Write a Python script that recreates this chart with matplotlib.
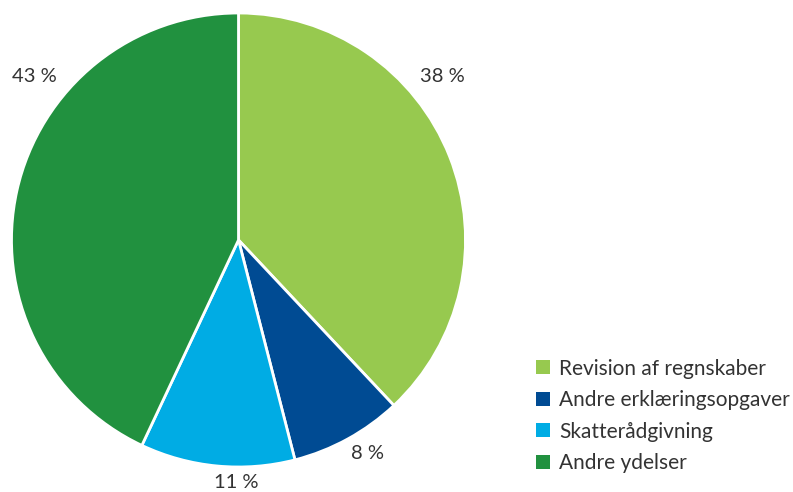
import numpy as np
import matplotlib.pyplot as plt
from matplotlib.patches import Patch

plt.rcParams['font.family'] = ['Lato', 'DejaVu Sans']

categories = ['Revision af regnskaber', 'Andre erklæringsopgaver',
              'Skatterådgivning', 'Andre ydelser']
shares = [38, 8, 11, 43]
colors = ['#97C94F', '#004B93', '#00ACE4', '#21913F']
# label positions (data units, pie radius = 1)
label_pos = [(0.90, 0.72), (0.57, -0.94), (-0.01, -1.07), (-0.90, 0.72)]

fig = plt.figure(figsize=(7.93, 4.92), dpi=100)
ax = fig.add_axes([11.5 / 793, 25 / 492, 454 / 793, 454 / 492])
wedges, _ = ax.pie(shares, colors=colors, startangle=90, counterclock=False,
                   radius=1, wedgeprops=dict(edgecolor='white', linewidth=2))
ax.set_xlim(-1, 1)
ax.set_ylim(-1, 1)
ax.set_aspect('equal')
ax.axis('off')

for s, (x, y) in zip(shares, label_pos):
    ax.text(x, y, f'{s} %', ha='center', va='center', fontsize=14.5,
            color='#333333', clip_on=False)

handles = [Patch(facecolor=c, edgecolor='none') for c in colors]
fig.legend(handles, categories, loc='lower left',
           bbox_to_anchor=(536 / 793, 19 / 492), frameon=False, borderpad=0,
           borderaxespad=0, fontsize=15, handlelength=0.66, handleheight=0.66,
           handletextpad=0.45, labelspacing=0.55, labelcolor='#333333')

fig.savefig('out.png', dpi=100)
